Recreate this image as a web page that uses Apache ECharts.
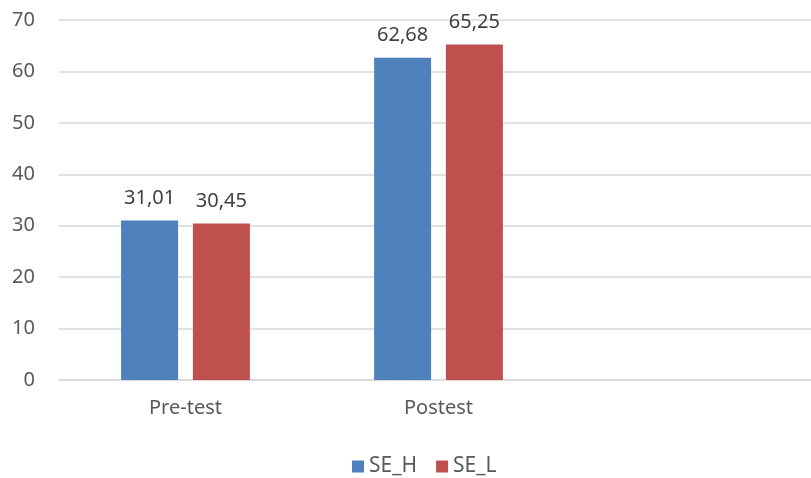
<!DOCTYPE html>
<html>
<head>
<meta charset="utf-8">
<script src="https://cdn.jsdelivr.net/npm/echarts@6/dist/echarts.min.js"></script>
<style>
  html, body { margin: 0; padding: 0; background: #fff; }
  #chart { width: 811px; height: 478px; }
</style>
</head>
<body>
<div id="chart"></div>
<script>
// 数据
const categories = ['Pre-test', 'Postest', '']
const seriesNames = ['SE_H', 'SE_L']
const seH = [31.01, 62.68, null]
const seL = [30.45, 65.25, null]
const yTicks = { min: 0, max: 70, interval: 10 }

const FONT = '"Noto Sans", sans-serif'
const fmt = (v) => v.toFixed(2).replace('.', ',')

const chart = echarts.init(document.getElementById('chart'))

const barSeries = (name, data, color) => ({
  name,
  type: 'bar',
  data,
  barWidth: 57,
  barGap: '26%',
  itemStyle: { color },
  label: {
    show: true,
    position: 'top',
    distance: 12,
    color: '#404040',
    fontSize: 20,
    fontFamily: FONT,
    formatter: (p) => fmt(p.value),
  },
})

chart.setOption({
  animation: false,
  // 网格右侧略超出画布，使类目宽度与原图一致
  grid: { top: 20, height: 360, left: 59, width: 759, outerBoundsMode: 'none' },
  legend: {
    data: seriesNames,
    top: 456,
    left: 352,
    padding: 0,
    icon: 'rect',
    itemWidth: 12,
    itemHeight: 12,
    itemGap: 19,
    textStyle: { color: '#595959', fontSize: 21, fontFamily: FONT },
  },
  xAxis: {
    type: 'category',
    data: categories,
    axisLine: { lineStyle: { color: '#d9d9d9', width: 1.5 } },
    axisTick: { show: false },
    axisLabel: { color: '#595959', fontSize: 20, fontFamily: FONT, margin: 18 },
  },
  yAxis: {
    type: 'value',
    min: yTicks.min,
    max: yTicks.max,
    interval: yTicks.interval,
    axisLine: { show: false },
    axisTick: { show: false },
    axisLabel: { color: '#595959', fontSize: 20, fontFamily: FONT, margin: 24 },
    splitLine: { lineStyle: { color: '#d9d9d9', width: 1.5 } },
  },
  series: [
    barSeries('SE_H', seH, '#4f81bd'),
    barSeries('SE_L', seL, '#c0504d'),
  ],
})
</script>
</body>
</html>
